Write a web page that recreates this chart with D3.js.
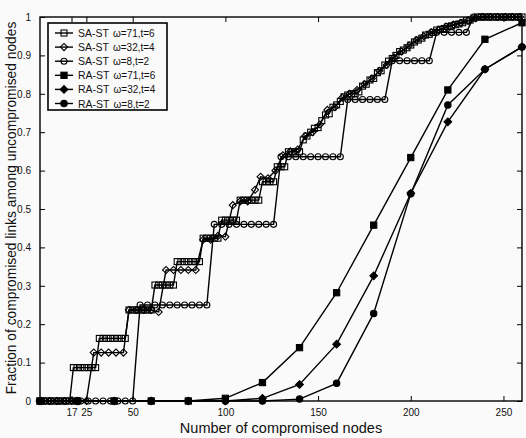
<!DOCTYPE html>
<head>
  <meta charset="utf-8">
  <title>compromised links</title>
  <style>
    body { margin: 0; background: #fafafa; }
    text { font-family: "Liberation Sans", Arial, sans-serif; fill: #111; }
  </style>
</head>

<script src="https://d3js.org/d3.v7.min.js"></script>

<div id="chart"></div>

<script>

  // tick values
  const xTicks = [17, 25, 50, 100, 150, 200, 250]
  const yTicks = [0, 0.1, 0.2, 0.3, 0.4, 0.5, 0.6, 0.7, 0.8, 0.9, 1]

  // SA-ST w=71,t=6 (open squares)
  const saW71 = [[0,0],[2,0],[4,0],[6,0],[8,0],[10,0],[12,0],[14,0],[16,0],
    [18,.087],[20,.087],[22,.087],[24,.087],[26,.087],[28,.087],[30,.087],
    [32,.163],[34,.163],[36,.163],[38,.163],[40,.163],[42,.163],[44,.163],[46,.163],
    [48,.237],[50,.237],[52,.237],[54,.237],[56,.237],[58,.237],[60,.237],
    [62,.302],[64,.302],[66,.302],[68,.302],[70,.302],[72,.302],
    [74,.363],[76,.363],[78,.363],[80,.363],[82,.363],[84,.363],[86,.363],
    [88,.424],[90,.424],[92,.424],[94,.424],[96,.424],
    [98,.471],[100,.471],[102,.471],[104,.471],[106,.471],
    [108,.523],[110,.523],[112,.523],[114,.523],[116,.523],[118,.523],
    [120,.571],[122,.571],[124,.571],[126,.571],
    [128,.61],[130,.61],[132,.61],
    [134,.649],[136,.649],[138,.649],[140,.649],
    [142,.68],[144,.69],[146,.70],[148,.71],[150,.712],[152,.73],[154,.745],[156,.748],
    [158,.765],[160,.771],[162,.78],[164,.792],[166,.797],[168,.80],[170,.80],[172,.805],
    [174,.82],[176,.825],[178,.836],[180,.84],[182,.855],[184,.86],[186,.875],[188,.885],
    [190,.892],[192,.90],[194,.91],[196,.914],[198,.92],[200,.927],[202,.935],[204,.94],
    [206,.945],[208,.953],[210,.955],[212,.96],[214,.966],[216,.968],[218,.97],[220,.975],
    [222,.977],[224,.98],[226,.982],[228,.985],[230,.99],[232,.992],[234,.997],[236,1],
    [238,1],[240,1],[242,1],[244,1],[246,1],[248,1],[250,1],[252,1],[254,1],[256,1],[258,1],[260,1]]

  // SA-ST w=32,t=4 (open diamonds)
  const saW32 = [[1,0],[5,0],[9,0],[13,0],[17,0],[21,0],[25,0],
    [29,.126],[33,.126],[37,.126],[41,.126],[45,.126],
    [48,.237],[52,.237],[56,.237],[60,.237],[64,.232],
    [68,.341],[72,.341],[76,.341],[80,.341],[84,.341],
    [88,.42],[92,.42],[96,.43],[100,.428],[104,.51],[108,.52],[112,.52],[116,.55],
    [119,.584],[123,.58],[127,.60],[131,.64],[135,.65],[139,.655],[143,.69],[147,.70],
    [151,.72],[155,.758],[159,.765],[163,.79],[167,.80],[171,.81],[175,.825],[179,.84],
    [183,.86],[187,.875],[191,.895],[195,.91],[199,.925],[203,.94],[207,.95],[211,.96],
    [215,.966],[219,.975],[223,.98],[227,.985],[231,.99],[235,.997],[239,1],[243,1],
    [247,1],[251,1],[255,1],[259,1]]

  // SA-ST w=8,t=2 (open circles)
  const saW8 = [[2,0],[6,0],[10,0],[14,0],[18,0],[22,0],[26,0],[30,0],[34,0],[38,0],[42,0],[46,0],[50,0],
    [54,.25],[58,.25],[62,.25],[66,.25],[70,.25],[74,.25],[78,.25],[82,.25],[86,.25],[90,.25],
    [94,.46],[98,.46],[102,.46],[106,.46],[110,.46],[114,.46],[118,.46],[122,.46],[126,.46],
    [130,.636],[134,.636],[138,.636],[142,.636],[146,.636],[150,.636],[154,.636],[158,.636],[162,.636],
    [166,.785],[170,.785],[174,.785],[178,.785],[182,.785],[186,.785],
    [190,.886],[194,.886],[198,.886],[202,.886],[206,.886],[210,.886],
    [214,.96],[218,.96],[222,.96],[226,.96],[230,.96],
    [234,1],[238,1],[242,1],[246,1],[250,1],[254,1],[258,1]]

  // RA-ST curves, sampled every 20 nodes
  const raX = [0, 20, 40, 60, 80, 100, 120, 140, 160, 180, 200, 220, 240, 260]
  const raW71 = [0, 0, 0, 0, 0, 0.007, 0.048, 0.139, 0.282, 0.458, 0.634, 0.81, 0.942, 0.985]
  const raW32 = [0, 0, 0, 0, 0, 0, 0.007, 0.043, 0.148, 0.326, 0.541, 0.727, 0.864, 0.922]
  const raW8  = [0, 0, 0, 0, 0, 0, 0, 0.005, 0.046, 0.228, 0.54, 0.771, 0.864, 0.922]

  const W = 526, H = 438

  const svg = d3.select("#chart")
    .append("svg")
      .attr("width", W)
      .attr("height", H)

  const x = d3.scaleLinear().domain([0, 260]).range([40, 522])
  const y = d3.scaleLinear().domain([0, 1]).range([401, 17])

  const series = [
    {name: "SA-ST", par: "\u03c9=71,t=6", pts: saW71, sym: "square", filled: false},
    {name: "SA-ST", par: "\u03c9=32,t=4", pts: saW32, sym: "diamond", filled: false},
    {name: "SA-ST", par: "\u03c9=8,t=2",  pts: saW8,  sym: "circle", filled: false},
    {name: "RA-ST", par: "\u03c9=71,t=6", pts: raX.map((v, i) => [v, raW71[i]]), sym: "square", filled: true},
    {name: "RA-ST", par: "\u03c9=32,t=4", pts: raX.map((v, i) => [v, raW32[i]]), sym: "diamond", filled: true},
    {name: "RA-ST", par: "\u03c9=8,t=2",  pts: raX.map((v, i) => [v, raW8[i]]),  sym: "circle", filled: true}
  ]

  // draws one marker into g at (cx, cy)
  function marker(g, s, cx, cy) {
    const fill = s.filled ? "#000" : "none"
    if (s.sym == "circle") {
      g.append("circle").attr("cx", cx).attr("cy", cy).attr("r", s.filled ? 3.2 : 3)
        .attr("fill", fill).attr("stroke", "#000").attr("stroke-width", 1.1)
    } else {
      // diamond = square turned 45 degrees
      const h = s.sym == "diamond" ? (s.filled ? 2.7 : 2.5) : (s.filled ? 3.1 : 3)
      const rot = s.sym == "diamond" ? 45 : 0
      g.append("rect").attr("x", -h).attr("y", -h).attr("width", 2 * h).attr("height", 2 * h)
        .attr("transform", `translate(${cx},${cy}) rotate(${rot})`)
        .attr("fill", fill).attr("stroke", "#000").attr("stroke-width", 1.1)
    }
  }

  const plot = svg.append("g")
  const line = d3.line().x(d => x(d[0])).y(d => y(d[1]))

  series.forEach(s => {
    plot.append("path")
      .attr("d", line(s.pts))
      .attr("fill", "none")
      .attr("stroke", "#000")
      .attr("stroke-width", 1.4)
    const mg = plot.append("g")
    s.pts.forEach(p => marker(mg, s, x(p[0]), y(p[1])))
  })

  // frame
  svg.append("rect")
    .attr("x", 40).attr("y", 17)
    .attr("width", 482).attr("height", 384)
    .attr("fill", "none").attr("stroke", "#000").attr("stroke-width", 1.4)

  // axes with inward ticks
  const fmtY = d => d == 0 || d == 1 ? String(d) : d.toFixed(1)
  svg.append("g").attr("transform", "translate(0,401)")
    .call(d3.axisBottom(x).tickValues(xTicks).tickSize(-5).tickPadding(8).tickSizeOuter(0))
  svg.append("g").attr("transform", "translate(0,17)")
    .call(d3.axisTop(x).tickValues(xTicks).tickSize(-5).tickFormat("").tickSizeOuter(0))
  svg.append("g").attr("transform", "translate(40,0)")
    .call(d3.axisLeft(y).tickValues(yTicks).tickSize(-5).tickPadding(9).tickFormat(fmtY).tickSizeOuter(0))
  svg.append("g").attr("transform", "translate(522,0)")
    .call(d3.axisRight(y).tickValues(yTicks).tickSize(-5).tickFormat("").tickSizeOuter(0))

  svg.selectAll(".domain").remove()
  svg.selectAll(".tick line").attr("stroke", "#000").attr("stroke-width", 1)
  svg.selectAll(".tick text")
    .style("font-family", "'Liberation Sans', Arial, sans-serif")
    .style("font-size", "10px")
    .attr("fill", "#111")

  // axis titles
  svg.append("text")
    .attr("x", 281).attr("y", 433)
    .attr("text-anchor", "middle")
    .style("font-size", "14.5px")
    .text("Number of compromised nodes")

  svg.append("text")
    .attr("transform", "translate(16,208) rotate(-90)")
    .attr("text-anchor", "middle")
    .style("font-size", "13.8px")
    .text("Fraction of compromised links among uncompromised nodes")

  // legend
  const lg = svg.append("g")
  lg.append("rect")
    .attr("x", 48).attr("y", 23).attr("width", 119).attr("height", 87)
    .attr("fill", "#fafafa").attr("stroke", "#000").attr("stroke-width", 1.6)

  series.forEach((s, i) => {
    const ly = 33 + i * 14.1
    lg.append("line").attr("x1", 55).attr("x2", 73).attr("y1", ly).attr("y2", ly)
      .attr("stroke", "#000").attr("stroke-width", 1.4)
    marker(lg, s, 64, ly)
    const t = lg.append("text").attr("x", 78).attr("y", ly + 4).style("font-size", "10.5px")
    t.append("tspan").text(s.name)
    t.append("tspan").attr("dx", 4).style("font-size", "10px").text(s.par)
  })

</script>
